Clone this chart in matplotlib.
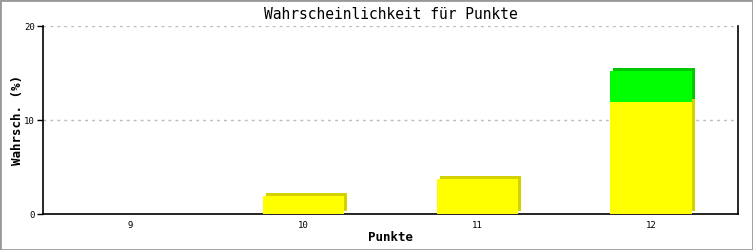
import matplotlib
matplotlib.use("Agg")
import matplotlib.pyplot as plt
import matplotlib.transforms as mtransforms
from matplotlib.patches import Rectangle

categories = ["9", "10", "11", "12"]
yellow_vals = [0, 1.9, 3.7, 11.9]
green_vals = [0, 0, 0, 3.3]

fig = plt.figure(figsize=(7.53, 2.5), dpi=100)
fig.patches.append(Rectangle((0, 0), 1, 1, transform=fig.transFigure,
                             fill=False, edgecolor="#999999", linewidth=2))
ax = fig.add_axes([43 / 753, 36 / 250, 695 / 753, 188 / 250])

x = list(range(len(categories)))
width = 0.47
depth = mtransforms.offset_copy(ax.transData, fig=fig, x=3, y=3, units="dots")

# shadow / depth
ax.bar(x, yellow_vals, width, color="#d2d200", transform=depth, zorder=2)
ax.bar(x, green_vals, width, bottom=yellow_vals, color="#00c800",
       transform=depth, zorder=2)
# front faces
ax.bar(x, yellow_vals, width, color="#ffff00", zorder=3)
ax.bar(x, green_vals, width, bottom=yellow_vals, color="#00ff00", zorder=3)

ax.set_xlim(-0.5, 3.5)
ax.set_ylim(0, 20)
ax.set_yticks([0, 10, 20])
ax.set_xticks(x)
ax.set_xticklabels(categories)

mono = "DejaVu Sans Mono"
for lab in ax.get_xticklabels() + ax.get_yticklabels():
    lab.set_family(mono)
    lab.set_fontsize(6.5)
ax.tick_params(axis="x", length=0, pad=5)
ax.tick_params(axis="y", length=4, width=1, pad=2)

ax.yaxis.grid(True, linestyle=(0, (2, 3)), color="#bbbbbb", linewidth=1)
ax.set_axisbelow(True)
ax.spines["top"].set_visible(False)
for s in ["left", "right", "bottom"]:
    ax.spines[s].set_linewidth(1.2)

ax.set_title("Wahrscheinlichkeit für Punkte", family=mono, fontsize=10.5, pad=5)
ax.set_xlabel("Punkte", family=mono, fontsize=9, fontweight="bold", labelpad=1)
ax.set_ylabel("Wahrsch. (%)", family=mono, fontsize=9, fontweight="bold", labelpad=0)

fig.savefig("out.png", dpi=100)
